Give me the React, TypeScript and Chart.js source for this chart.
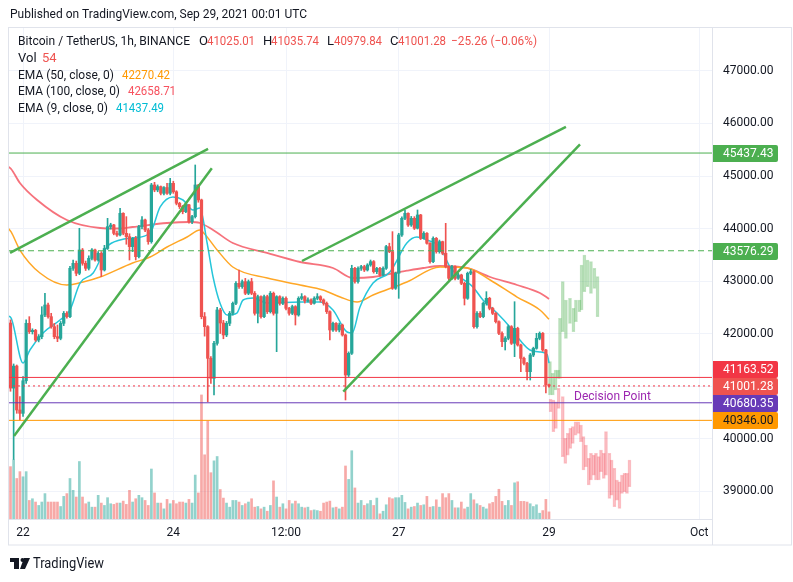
import React, { useEffect, useRef } from 'react';
import { Chart, registerables } from 'chart.js';

Chart.register(...registerables);

// hours are counted from Sep 22 2021 00:00 UTC; first candle = Sep 21 20:00
const FIRST_HOUR = -4;
const X_MIN = -4.8;
const X_MAX = 220.06;
const Y_MIN = 38467;
const Y_MAX = 47838;
const VOL_MAX = 3740;

const timeTickHours = [0, 48, 84, 120, 168, 216];
const timeTickLabels = ['22', '24', '12:00', '27', '29', 'Oct'];
const priceTicks = [39000, 40000, 41000, 42000, 43000, 44000, 45000, 46000, 47000];

const opens = [
  42200, 40960, 41380, 40543, 40480, 41100, 42194, 42035, 42060, 41877,
  41940, 42353, 42543, 42321, 42131, 41940, 41908, 42194, 42385, 42321,
  43242, 43337, 43147, 43591, 43337, 43242, 43432, 43591, 43401, 43527,
  43210, 43620, 44036, 44067, 43908, 43877, 44290, 43908, 43845, 43655,
  43813, 43464, 44036, 44163, 43972, 43750, 44829, 44734, 44798, 44671,
  44780, 44671, 44861, 44700, 44480, 44417, 44321, 44450, 44131, 44226,
  44829, 44544, 42321, 42131, 41527, 41146, 41813, 42448, 42200, 41972,
  42194, 42385, 42575, 42956, 42893, 42988, 42766, 42988, 42766, 42385,
  42702, 42321, 42702, 42416, 42766, 42385, 42702, 42575, 42670, 42480,
  42385, 42512, 42353, 42670, 42702, 42620, 42640, 42575, 42670, 42702,
  42640, 42575, 42416, 42067, 42194, 42067, 42162, 41972, 41210, 41623,
  43242, 42988, 43242, 43274, 43210, 43305, 43369, 43178, 43240, 43115,
  43242, 43655, 43559, 42861, 43147, 43877, 44194, 44290, 44067, 44194,
  44004, 44258, 43813, 43909, 43718, 43369, 43813, 43559, 43750, 43528,
  43274, 43051, 43274, 43051, 43115, 42956, 42670, 43147, 43178, 42130,
  42384, 42321, 42574, 42670, 42479, 42384, 42225, 42003, 41844, 41908,
  42130, 41813, 42098, 41781, 41527, 41432, 41273, 41590, 41717, 41908,
  42003, 41686, 41025.01,
];
const highs = [
  42260, 41420, 41400, 40800, 41180, 42260, 42321, 42090, 42080, 41980,
  42511, 42766, 42580, 42385, 42194, 42162, 42230, 42420, 42420, 43280,
  43400, 43380, 44004, 43620, 43380, 43480, 43620, 43610, 43560, 43560,
  43680, 44194, 44100, 44080, 43950, 44385, 44300, 44226, 43900, 43830,
  43850, 44060, 44226, 44180, 44000, 44860, 44880, 44830, 44810, 44800,
  44861, 44956, 44900, 44720, 44500, 44440, 44480, 44460, 44250, 45210,
  44840, 44560, 42400, 42150, 41560, 41850, 42500, 42480, 42250, 42230,
  42420, 42600, 42990, 43210, 43020, 43050, 43020, 43050, 42800, 42730,
  42720, 42730, 42730, 42800, 42790, 42720, 42720, 42700, 42700, 42500,
  42540, 42530, 42700, 42760, 42720, 42680, 42660, 42700, 42760, 42720,
  42660, 42600, 42430, 42220, 42210, 42200, 42180, 41990, 41650, 43300,
  43260, 43270, 43300, 43300, 43330, 43400, 43390, 43260, 43260, 43270,
  43680, 43720, 43940, 43170, 43909, 44220, 44353, 44300, 44230, 44226,
  44353, 44270, 43940, 43920, 43730, 43840, 43830, 43780, 43760, 44099,
  43290, 43300, 43290, 43150, 43130, 42980, 43170, 43220, 43200, 42420,
  42420, 42600, 42797, 42690, 42500, 42400, 42240, 42030, 41940, 42160,
  42150, 42606, 42120, 41800, 41550, 41450, 41620, 41740, 42003, 42030,
  42020, 41700, 41035.74,
];
const lows = [
  40900, 39600, 40480, 40350, 40420, 41050, 42000, 41990, 41850, 41840,
  41900, 42320, 42290, 42100, 41900, 41845, 41880, 42150, 42290, 42300,
  43200, 43100, 43120, 43300, 43200, 43210, 43400, 43380, 43380, 43083,
  43190, 43600, 43990, 43880, 43850, 43860, 43880, 43700, 43400, 43560,
  43400, 43440, 43990, 43940, 43700, 43720, 44700, 44700, 44640, 44640,
  44650, 44640, 44670, 44450, 44380, 44280, 44300, 44100, 44090, 44200,
  44500, 42280, 41950, 40700, 41050, 40830, 41780, 42000, 41900, 41940,
  42150, 42350, 42550, 42860, 42860, 42740, 42740, 42740, 42350, 42200,
  42290, 42300, 42380, 42390, 42350, 41654, 42540, 42550, 42450, 42350,
  42360, 42162, 42330, 42640, 42580, 42600, 42550, 42560, 42640, 42600,
  42540, 42380, 41877, 42040, 42040, 42030, 41950, 40734, 41180, 41600,
  42960, 42960, 43200, 43180, 43190, 43280, 43150, 43140, 43090, 43100,
  43220, 43540, 42840, 42840, 42670, 43850, 44170, 44040, 44040, 43980,
  43990, 43790, 43800, 43700, 43340, 43350, 43530, 43530, 43500, 43250,
  43020, 43030, 43020, 43030, 42930, 42543, 42650, 43120, 42100, 42100,
  42300, 42300, 42540, 42450, 42360, 42200, 41980, 41749, 41686, 41880,
  41790, 41559, 41760, 41273, 41400, 41114, 41114, 41560, 41700, 41880,
  41660, 40870, 40979.84,
];
const closes = [
  40960, 41380, 40543, 40480, 41100, 42194, 42035, 42060, 41877, 41940,
  42353, 42543, 42321, 42131, 41940, 41908, 42194, 42385, 42321, 43242,
  43337, 43147, 43591, 43337, 43242, 43432, 43591, 43401, 43527, 43210,
  43620, 44036, 44067, 43908, 43877, 44290, 43908, 43845, 43655, 43813,
  43464, 44036, 44163, 43972, 43750, 44829, 44734, 44798, 44671, 44780,
  44671, 44861, 44700, 44480, 44417, 44321, 44450, 44131, 44226, 44829,
  44544, 42321, 42131, 41527, 41146, 41813, 42448, 42200, 41972, 42194,
  42385, 42575, 42956, 42893, 42988, 42766, 42988, 42766, 42385, 42702,
  42321, 42702, 42416, 42766, 42385, 42702, 42575, 42670, 42480, 42385,
  42512, 42353, 42670, 42702, 42620, 42640, 42575, 42670, 42702, 42640,
  42575, 42416, 42067, 42194, 42067, 42162, 41972, 41210, 41623, 43242,
  42988, 43242, 43274, 43210, 43305, 43369, 43178, 43240, 43115, 43242,
  43655, 43559, 42861, 43147, 43877, 44194, 44290, 44067, 44194, 44004,
  44258, 43813, 43909, 43718, 43369, 43813, 43559, 43750, 43528, 43274,
  43051, 43274, 43051, 43115, 42956, 42670, 43147, 43178, 42130, 42384,
  42321, 42574, 42670, 42479, 42384, 42225, 42003, 41844, 41908, 42130,
  41813, 42098, 41781, 41527, 41432, 41273, 41590, 41717, 41908, 42003,
  41686, 41025.01, 41001.28,
];
const volumes = [
  398, 450, 308, 360, 321, 360, 141, 154, 129, 103,
  129, 193, 129, 129, 129, 129, 95, 172, 193, 308,
  218, 167, 437, 167, 116, 129, 90, 90, 180, 121,
  103, 162, 116, 111, 121, 121, 136, 111, 218, 129,
  154, 180, 162, 141, 103, 380, 198, 121, 121, 77,
  149, 116, 141, 116, 129, 129, 121, 149, 121, 334,
  198, 943, 488, 745, 352, 442, 475, 224, 159, 121,
  90, 141, 141, 129, 103, 116, 129, 154, 90, 95,
  77, 90, 59, 103, 290, 167, 90, 116, 77, 141,
  116, 136, 116, 90, 85, 90, 64, 69, 64, 59,
  121, 129, 136, 85, 90, 77, 90, 403, 301, 519,
  236, 121, 141, 103, 116, 141, 103, 159, 39, 59,
  108, 162, 154, 162, 162, 180, 126, 77, 90, 95,
  121, 103, 108, 172, 90, 95, 146, 90, 193, 162,
  193, 141, 85, 85, 129, 77, 90, 193, 146, 116,
  103, 90, 77, 116, 126, 172, 226, 134, 103, 141,
  103, 275, 283, 134, 134, 129, 116, 95, 108, 44,
  64, 149, 54,
];

// Moving averages at these hours
const ema100Hours = [-4.8, -3.8, -1, 4.5, 14, 24.6, 30, 35, 46, 53.3, 56.5, 60.7, 67, 77.9, 88.5, 99, 105.4, 111.8, 122.6, 127.8, 133.2, 141.8, 149.2, 157.8, 165.1, 168];
const ema100Values = [45180, 45134, 44867, 44543, 44162, 44010, 44000, 44029, 44105, 44124, 44105, 43972, 43724, 43534, 43362, 43248, 43057, 43076, 43196, 43248, 43286, 43248, 43076, 42924, 42772, 42659];
const ema50Hours = [-4.8, -3.8, -1, 5.4, 14, 19.2, 24.6, 35, 40.6, 46, 52.4, 56.5, 57.5, 62, 67, 78, 88.5, 95.8, 101.3, 106.7, 111.8, 122.6, 133.2, 141.8, 149.2, 157.8, 165.1, 168];
const ema50Values = [44010, 43934, 43590, 43153, 42924, 42981, 43076, 43343, 43457, 43648, 43838, 43972, 43930, 43591, 43267, 43057, 42924, 42829, 42695, 42600, 42733, 42981, 43267, 43248, 43019, 42695, 42448, 42270];
const ema9Hours = [-4.8, -3.8, 0, 2.2, 6.4, 11.8, 15, 18.2, 22.4, 26.8, 31, 35.1, 40.6, 43.8, 47.9, 51.1, 54.3, 56.5, 58.8, 60.7, 62.9, 65.2, 68.3, 70.3, 73.5, 77.9, 88.5, 94.9, 99, 103.5, 105.1, 107.6, 111.8, 117.2, 122.6, 125.8, 129, 133.2, 136.4, 139.6, 143.7, 146.9, 151.4, 155.5, 158.7, 161.9, 165.1, 167.4, 168];
const ema9Values = [42333, 42295, 41438, 41686, 42010, 42257, 42448, 42960, 43153, 43648, 43781, 43820, 43915, 44410, 44600, 44543, 44353, 44390, 43724, 43076, 42581, 42352, 42390, 42638, 42676, 42581, 42600, 42600, 42448, 42029, 42010, 42500, 42962, 43172, 43724, 43838, 43781, 43648, 43267, 43076, 42886, 42638, 42390, 42124, 41876, 41686, 41648, 41600, 41437];
const emaLegendValues = ['42270.42', '42658.71', '41437.49'];

// Projected bar patterns
const ghostGreenHours = [168.3, 169.2, 170.1, 170.9, 171.5, 172.4, 173.4, 174.7, 175.8, 176.6, 177.7, 178.4, 179.3, 180.3, 181.4, 182.5, 183.5];
const ghostGreenLows = [40828, 40828, 40924, 41146, 41146, 42035, 41908, 42194, 42035, 42225, 42416, 42448, 42797, 42892, 42765, 42860, 42320];
const ghostGreenHighs = [41463, 41241, 41304, 41304, 42289, 42987, 42638, 42670, 42479, 42638, 42638, 43305, 43495, 43400, 43368, 43241, 43083];
const ghostRedHours = [168.5, 169.4, 170.2, 171.1, 172.4, 173.2, 174.0, 174.8, 175.6, 176.5, 177.4, 178.2, 179.0, 179.8, 180.7, 181.4, 182.3, 183.0, 183.9, 184.6, 185.5, 186.2, 187.3, 188.0, 188.9, 189.7, 190.5, 191.3, 192.1, 192.9, 193.7];
const ghostRedLows = [40511, 40130, 40193, 40574, 39654, 39527, 39685, 39812, 39908, 40066, 40098, 39939, 39400, 39463, 39114, 39209, 39304, 39209, 39209, 39368, 39241, 39304, 38860, 38923, 38701, 38828, 38669, 38955, 38987, 38955, 39082];
const ghostRedHighs = [40746, 40733, 40701, 40955, 40797, 40003, 40098, 40193, 40225, 40320, 40320, 40257, 40035, 39876, 39622, 39717, 39685, 39717, 39654, 39781, 39717, 40130, 39717, 39590, 39431, 39209, 39177, 39304, 39336, 39336, 39590];

// Horizontal levels
const levelValues = [45437.43, 43576.29, 41163.52, 41001.28, 40680.35, 40346.0];
const levelLineColors = ['#4caf50', '#4caf50', '#f23645', '#f23645', '#673ab7', '#ff9800'];
const levelDashes = [[], [6, 4], [], [2, 3], [], []];
const levelLabelBg = ['#4caf50', '#4caf50', '#f23645', '#ef5350', '#673ab7', '#ff9800'];
const levelLabelFg = ['#ffffff', '#ffffff', '#ffffff', '#ffffff', '#ffffff', '#131722'];
const CURRENT_LEVEL = 3;

// Trend lines
const trendStartHours = [-4.15, -2.87, 89.1, 102.3];
const trendStartPrices = [43534, 40047, 43381, 40891];
const trendEndHours = [59.1, 60.3, 173.4, 177.9];
const trendEndPrices = [45515, 45147, 45934, 45604];

const decisionHour = 176;
const decisionLevel = 40680.35;

const UP = '#26a69a';
const DOWN = '#ef5350';
const FONT = 'Roboto, "Liberation Sans", sans-serif';

function txt(ctx: any, s: string, x: number, y: number, color: string, size: number, maxW?: number) {
  ctx.font = `${size}px ${FONT}`;
  ctx.fillStyle = color;
  ctx.textAlign = 'left';
  ctx.textBaseline = 'middle';
  if (maxW) ctx.fillText(s, x, y, maxW);
  else ctx.fillText(s, x, y);
}

const overlayPlugin = {
  id: 'tvOverlay',
  afterDraw(chart: any) {
    const { ctx, chartArea: ca, scales } = chart;
    const ys = scales.y;
    const xs = scales.x;
    ctx.save();
    // frame
    ctx.strokeStyle = '#e0e3eb';
    ctx.lineWidth = 1;
    ctx.strokeRect(8.5, ca.top + 0.5, 783, 517.5);
    ctx.beginPath();
    ctx.moveTo(ca.right + 0.5, ca.top);
    ctx.lineTo(ca.right + 0.5, 545);
    ctx.moveTo(ca.left, ca.bottom + 0.5);
    ctx.lineTo(ca.right, ca.bottom + 0.5);
    ctx.stroke();

    // price labels, stacked so they do not overlap (current price label keeps its place)
    const H = 17;
    const pos = levelValues.map((v) => ys.getPixelForValue(v));
    const order = levelValues.map((_, i) => i).sort((a, b) => pos[a] - pos[b]);
    const ci = order.indexOf(CURRENT_LEVEL);
    for (let k = ci - 1; k >= 0; k--) {
      const below = pos[order[k + 1]];
      if (pos[order[k]] > below - H) pos[order[k]] = below - H;
    }
    for (let k = ci + 1; k < order.length; k++) {
      const above = pos[order[k - 1]];
      if (pos[order[k]] < above + H) pos[order[k]] = above + H;
    }
    levelValues.forEach((v, i) => {
      const py = Math.round(pos[i]);
      ctx.fillStyle = levelLabelBg[i];
      ctx.beginPath();
      ctx.roundRect(ca.right + 1, py - 8, 65, H, [0, 2, 2, 0]);
      ctx.fill();
      txt(ctx, v.toFixed(2), ca.right + 11, py + 1, levelLabelFg[i], 12);
    });

    // decision point
    txt(ctx, 'Decision Point', xs.getPixelForValue(decisionHour), ys.getPixelForValue(decisionLevel) - 6, '#9c27b0', 12);

    // header
    txt(ctx, 'Published on TradingView.com, Sep 29, 2021 00:01 UTC', 10, 15, '#131722', 13, 297);
    const dark = '#131722';
    const red = '#ef5350';
    const n = closes.length - 1;
    txt(ctx, 'Bitcoin / TetherUS, 1h, BINANCE', 18, 42, dark, 13, 172);
    txt(ctx, 'O', 199, 42, dark, 13);
    txt(ctx, opens[n].toFixed(2), 207, 42, red, 13, 48);
    txt(ctx, 'H', 263, 42, dark, 13);
    txt(ctx, highs[n].toFixed(2), 271, 42, red, 13, 48);
    txt(ctx, 'L', 327, 42, dark, 13);
    txt(ctx, lows[n].toFixed(2), 334, 42, red, 13, 48);
    txt(ctx, 'C', 390, 42, dark, 13);
    txt(ctx, closes[n].toFixed(2), 398, 42, red, 13, 48);
    txt(ctx, '\u221225.26 (\u22120.06%)', 451, 42, red, 13, 86);
    txt(ctx, 'Vol', 18, 59, dark, 13);
    txt(ctx, String(volumes[n]), 42, 59, red, 13);
    txt(ctx, 'EMA (50, close, 0)', 18, 76, dark, 13, 96);
    txt(ctx, emaLegendValues[0], 122, 76, '#ff9800', 13, 48);
    txt(ctx, 'EMA (100, close, 0)', 18, 92, dark, 13, 102);
    txt(ctx, emaLegendValues[1], 128, 92, '#f7525f', 13, 48);
    txt(ctx, 'EMA (9, close, 0)', 18, 109, dark, 13, 90);
    txt(ctx, emaLegendValues[2], 116, 109, '#00bcd4', 13, 48);

    // footer logo
    ctx.fillStyle = '#131722';
    ctx.fillRect(10, 558, 9, 4);
    ctx.fillRect(14, 558, 5, 11);
    ctx.beginPath();
    ctx.arc(22.5, 560, 2, 0, Math.PI * 2);
    ctx.fill();
    ctx.beginPath();
    ctx.moveTo(24, 558);
    ctx.lineTo(30, 558);
    ctx.lineTo(25, 569);
    ctx.lineTo(20, 569);
    ctx.closePath();
    ctx.fill();
    txt(ctx, 'TradingView', 33, 564, '#131722', 14, 71);
    ctx.restore();
  },
};

export default function App() {
  const ref = useRef<HTMLCanvasElement | null>(null);

  useEffect(() => {
    if (!ref.current) return;
    Chart.defaults.font.family = FONT;
    Chart.defaults.font.size = 12;
    Chart.defaults.color = '#131722';

    const hours = closes.map((_, i) => FIRST_HOUR + i);
    const candleColors = closes.map((c, i) => (c >= opens[i] ? UP : DOWN));
    const volColors = closes.map((c, i) => (c >= opens[i] ? 'rgba(38,166,154,0.5)' : 'rgba(239,83,80,0.5)'));

    const datasets: any[] = [];
    datasets.push({
      type: 'bar', label: 'vol', yAxisID: 'yv',
      data: hours.map((h, i) => ({ x: h, y: volumes[i] })),
      backgroundColor: volColors, barThickness: 2, grouped: false, order: 100,
    });
    datasets.push({
      type: 'bar', label: 'ghostGreen',
      data: ghostGreenHours.map((h, i) => ({ x: h, y: [ghostGreenLows[i], ghostGreenHighs[i]] })),
      backgroundColor: 'rgba(76,175,80,0.18)', borderColor: 'rgba(76,175,80,0.35)', borderWidth: 1,
      borderSkipped: false, barThickness: 3, grouped: false, order: 90,
    });
    datasets.push({
      type: 'bar', label: 'ghostRed',
      data: ghostRedHours.map((h, i) => ({ x: h, y: [ghostRedLows[i], ghostRedHighs[i]] })),
      backgroundColor: 'rgba(242,54,69,0.15)', borderColor: 'rgba(242,54,69,0.3)', borderWidth: 1,
      borderSkipped: false, barThickness: 3, grouped: false, order: 89,
    });
    const emaDef = (hs: number[], vs: number[], color: string, w: number, order: number) => ({
      type: 'line', data: hs.map((h, i) => ({ x: h, y: vs[i] })), borderColor: color, borderWidth: w,
      pointRadius: 0, cubicInterpolationMode: 'monotone', fill: false, order,
    });
    datasets.push(emaDef(ema100Hours, ema100Values, 'rgba(242,54,69,0.7)', 1.8, 60));
    datasets.push(emaDef(ema50Hours, ema50Values, '#ffa726', 1.5, 59));
    datasets.push(emaDef(ema9Hours, ema9Values, '#26c6da', 1.5, 58));
    datasets.push({
      type: 'bar', label: 'wicks',
      data: hours.map((h, i) => ({ x: h, y: [lows[i], highs[i]] })),
      backgroundColor: candleColors, barThickness: 1, grouped: false, order: 40,
    });
    datasets.push({
      type: 'bar', label: 'bodies',
      data: hours.map((h, i) => ({ x: h, y: [opens[i], closes[i]] })),
      backgroundColor: candleColors, barThickness: 2.6, minBarLength: 1, grouped: false, order: 39,
    });
    levelValues.forEach((v, i) => {
      datasets.push({
        type: 'line', data: [{ x: X_MIN, y: v }, { x: X_MAX, y: v }], borderColor: levelLineColors[i],
        borderWidth: 1, borderDash: levelDashes[i], pointRadius: 0, fill: false, order: 20,
      });
    });
    trendStartHours.forEach((h, i) => {
      datasets.push({
        type: 'line', data: [{ x: h, y: trendStartPrices[i] }, { x: trendEndHours[i], y: trendEndPrices[i] }],
        borderColor: '#4caf50', borderWidth: 2.5, pointRadius: 0, fill: false, order: 10,
      });
    });

    const chart = new Chart(ref.current, {
      type: 'bar',
      data: { datasets },
      plugins: [overlayPlugin],
      options: {
        responsive: false,
        animation: false,
        events: [],
        layout: { padding: { left: 8, top: 27, right: 3, bottom: 37 } },
        plugins: { legend: { display: false }, tooltip: { enabled: false } },
        scales: {
          x: {
            type: 'linear', min: X_MIN, max: X_MAX, offset: false,
            grid: { color: '#f0f3fa', drawTicks: false, offset: false },
            border: { display: false },
            afterBuildTicks: (s: any) => { s.ticks = timeTickHours.map((v) => ({ value: v })); },
            afterFit: (s: any) => { s.height = 26; },
            ticks: {
              autoSkip: false, maxRotation: 0, padding: 7, color: '#131722', font: { size: 12 },
              callback: (_v: any, idx: number) => timeTickLabels[idx],
            },
          },
          y: {
            type: 'linear', position: 'right', min: Y_MIN, max: Y_MAX,
            grid: { color: '#f0f3fa', drawTicks: false },
            border: { display: false },
            afterBuildTicks: (s: any) => { s.ticks = priceTicks.map((v) => ({ value: v })); },
            afterFit: (s: any) => { s.width = 78; },
            ticks: {
              padding: 11, color: '#131722', font: { size: 12 },
              callback: (v: any) => Number(v).toFixed(2),
            },
          },
          yv: { type: 'linear', display: false, min: 0, max: VOL_MAX },
        },
      } as any,
    } as any);
    return () => chart.destroy();
  }, []);

  return (
    <div style={{ position: 'fixed', left: 0, top: 0, width: 793, height: 582, background: '#ffffff' }}>
      <canvas ref={ref} width={793} height={582} style={{ display: 'block', width: 793, height: 582 }} />
    </div>
  );
}
